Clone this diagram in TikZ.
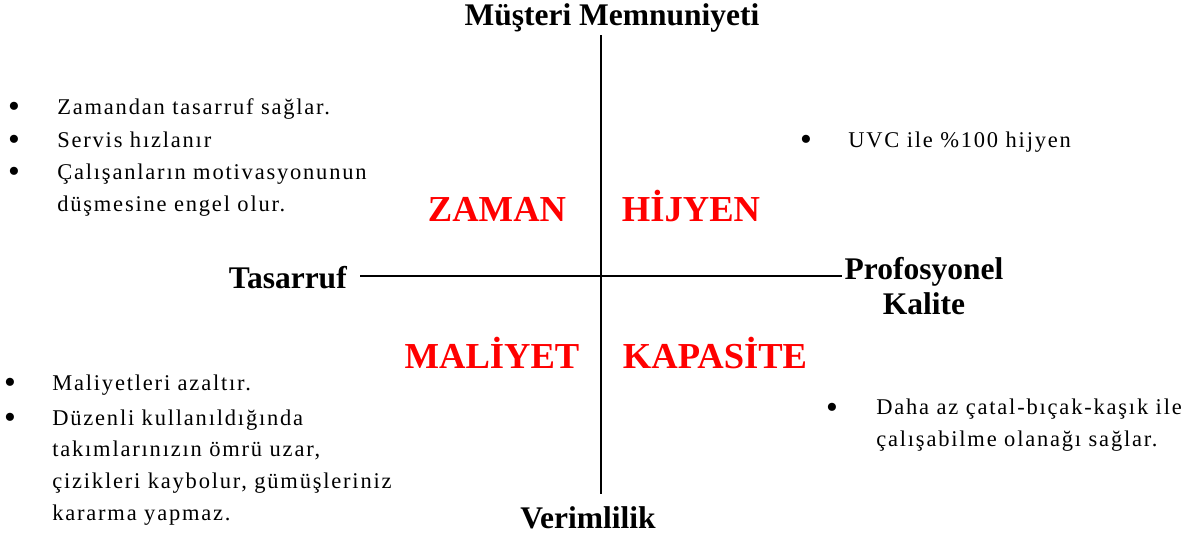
\documentclass[tikz,border=0pt]{standalone}
\usepackage{fontspec}
\setmainfont{Liberation Serif}
\newfontfamily\notefont[LetterSpace=8]{Liberation Serif}
\usetikzlibrary{positioning}
\tikzset{
  axis/.style={line width=2.1pt, draw=black},
  axislabel/.style={font=\fontsize{22.4}{25}\selectfont\bfseries, inner sep=0pt, align=center},
  quad/.style={font=\fontsize{26}{28}\selectfont\bfseries, text=red, inner sep=0pt, anchor=base},
  dot/.style={font=\fontsize{24}{24}\selectfont, inner sep=0pt},
  note/.style={font=\notefont\fontsize{16}{22.5}\selectfont, inner sep=0pt,
    align=left, anchor=base west},
}

\begin{document}
\begin{tikzpicture}[x=0.025cm, y=-0.025cm]
  \useasboundingbox (0,0) rectangle (1200,539);

  % ---- Axes --------------------------------------------------------------
  \coordinate (top)    at (601,35);
  \coordinate (bottom) at (601,494);
  \coordinate (left)   at (360,276);
  \coordinate (right)  at (842,276);
  \draw[axis] (top) -- (bottom);
  \draw[axis] (left) -- (right);

  % ---- Axis labels -------------------------------------------------------
  \node[axislabel]              (musteri)  at (612,18)  {Müşteri Memnuniyeti};
  \node[axislabel]              (verim)    at (588,518) {Verimlilik};
  \node[axislabel, anchor=east] (tasarruf) at (347,278) {Tasarruf};
  \node[axislabel]              (kalite)   at (924,286) {Profosyonel\\Kalite};

  % ---- Quadrant titles (base line) ---------------------------------------
  \node[quad] (zaman)    at (497,221) {ZAMAN};
  \node[quad] (hijyen)   at (691,221) {HİJYEN};
  \node[quad] (maliyet)  at (492,368) {MALİYET};
  \node[quad] (kapasite) at (715,368) {KAPASİTE};

  % ---- Notes: upper left (multi-line notes sit on their last line) -------
  \node[dot]  (d1) at (14,110) {•};
  \node[note] (n1) at (57,114) {Zamandan tasarruf sağlar.};
  \node[dot]  (d2) at (14,143) {•};
  \node[note] (n2) at (57,147) {Servis hızlanır};
  \node[dot]  (d3) at (14,175) {•};
  \node[note] (n3) at (57,211) {Çalışanların motivasyonunun\\düşmesine engel olur.};

  % ---- Notes: upper right ------------------------------------------------
  \node[dot]  (d4) at (806,143) {•};
  \node[note] (n4) at (848,147) {UVC ile \%100 hijyen};

  % ---- Notes: lower left -------------------------------------------------
  \node[dot]  (d5) at (10,386) {•};
  \node[note] (n5) at (52,390) {Maliyetleri azaltır.};
  \node[dot]  (d6) at (10,421) {•};
  \node[note] (n6) at (52,520) {Düzenli kullanıldığında\\takımlarınızın ömrü uzar,\\çizikleri kaybolur, gümüşleriniz\\kararma yapmaz.};

  % ---- Notes: lower right ------------------------------------------------
  \node[dot]  (d7) at (832,411) {•};
  \node[note] (n7) at (876,446) {Daha az çatal-bıçak-kaşık ile\\çalışabilme olanağı sağlar.};
\end{tikzpicture}
\end{document}
